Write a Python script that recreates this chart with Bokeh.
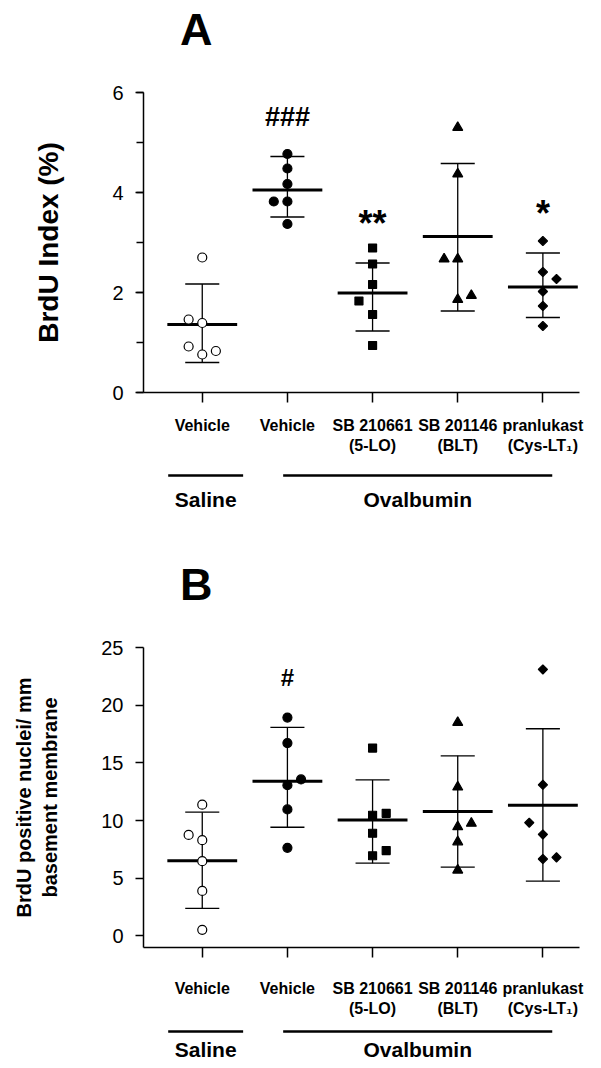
import numpy as np
from bokeh.plotting import figure
from bokeh.layouts import column
from bokeh.models import Range1d, FixedTicker, SingleIntervalTicker, ColumnDataSource
from bokeh.core.properties import value
from bokeh.embed import file_html
from bokeh.resources import INLINE

# ---------------- data ----------------
categories = ["Vehicle", "Vehicle", "SB 210661\n(5-LO)", "SB 201146\n(BLT)", "pranlukast\n(Cys-LT\u2081)"]
groups = ["Saline", "Ovalbumin"]
group_line_start = [0.60, 1.95]
group_line_end = [1.48, 5.11]
panel_letters = ["A", "B"]

# Panel A: BrdU index (%)
a_saline_vehicle = [2.70, 1.46, 1.39, 0.92, 0.76, 0.83]
a_ova_vehicle = [4.77, 4.48, 4.17, 3.82, 3.82, 3.37]
a_sb210661 = [2.89, 2.57, 2.16, 1.83, 1.56, 0.94]
a_sb201146 = [5.30, 4.37, 2.67, 2.67, 1.86, 1.94]
a_pranlukast = [3.03, 2.41, 2.27, 2.02, 1.73, 1.33]
a_jitter = [[0, -1, 0, -1, 0, 1], [0, 0, 0, -1, 0, 0], [0, 0, 0, -1, 0, 0],
            [0, 0, -1, 0, 0, 1], [0, 0, 1, 0, 0, 0]]
a_mean = [1.36, 4.05, 1.99, 3.12, 2.11]
a_upper = [2.17, 4.72, 2.59, 4.58, 2.79]
a_lower = [0.60, 3.51, 1.23, 1.63, 1.50]
a_sig = ["", "###", "**", "", "*"]

# Panel B: BrdU positive nuclei / mm basement membrane
b_saline_vehicle = [11.38, 8.76, 8.30, 6.48, 3.90, 0.53]
b_ova_vehicle = [18.93, 16.72, 13.57, 13.07, 10.97, 7.64]
b_sb210661 = [16.28, 10.46, 10.63, 8.90, 7.40, 6.95]
b_sb201146 = [18.50, 12.90, 9.76, 9.46, 8.15, 5.70]
b_pranlukast = [23.10, 13.10, 9.82, 8.80, 6.67, 6.81]
b_jitter = [[0, -1, 0, 0, 0, 0], [0, 0, 1, 0, 0, 0], [0, 0, 1, 0, 1, 0],
            [0, 0, 1, 0, 0, 0], [0, 0, -1, 0, 0, 1]]
b_mean = [6.52, 13.41, 10.06, 10.79, 11.33]
b_upper = [10.73, 18.07, 13.52, 15.61, 17.96]
b_lower = [2.39, 9.42, 6.31, 5.97, 4.76]
b_sig = ["", "#", "", "", ""]

# ---------------- style ----------------
FONT = "Liberation Sans"
FW, FH = 436, 300
BL, BR = 143, 13
XR = (0.31, 5.43)
JIT = 0.16
MARKERS = [
    dict(marker="circle", size=9, fill_color="white", angle=0),
    dict(marker="circle", size=9, fill_color="black", angle=0),
    dict(marker="square", size=8, fill_color="black", angle=0),
    dict(marker="triangle", size=10, fill_color="black", angle=0),
    dict(marker="square", size=6.5, fill_color="black", angle=np.pi / 4),
]
SIG_SIZE = {"#": "24px", "###": "27px", "**": "36px", "*": "36px"}


def strip(height, x_range):
    g = figure(frame_width=FW, frame_height=height, x_range=x_range,
               y_range=Range1d(height, 0), x_axis_type=None, y_axis_type=None,
               min_border_left=BL, min_border_right=BR, min_border_top=0, min_border_bottom=0,
               toolbar_location=None, output_backend="svg")
    g.outline_line_color = None
    g.grid.visible = False
    return g


def make_header(x_range, height, letter, baseline_y):
    h = strip(height, x_range)
    h.text(x=[0.93], y=[baseline_y], text=[letter], text_font=value(FONT),
           text_font_size="45px", text_font_style="bold", text_align="center",
           text_baseline="alphabetic", text_color="black")
    return h


def make_panel(x_range, ylabel, ylabel_size, ylabel_standoff, yrange, ticker, series, jitter,
               means, upper, lower, sig, sig_gap, top, bottom, xlab_standoff):
    p = figure(frame_width=FW, frame_height=FH, x_range=x_range, y_range=Range1d(*yrange),
               min_border_left=BL, min_border_right=BR, min_border_top=top,
               min_border_bottom=bottom, toolbar_location=None, output_backend="svg")
    p.outline_line_color = None
    p.grid.visible = False

    xa = p.xaxis[0]
    xa.ticker = FixedTicker(ticks=[1, 2, 3, 4, 5], minor_ticks=[])
    xa.major_label_overrides = {i + 1: c for i, c in enumerate(categories)}
    xa.major_tick_out = 10
    xa.major_tick_in = 0
    xa.major_label_standoff = xlab_standoff
    xa.major_label_text_font = FONT
    xa.major_label_text_font_size = "16px"
    xa.major_label_text_font_style = "bold"
    xa.major_label_text_color = "black"

    ya = p.yaxis[0]
    ya.ticker = ticker
    ya.major_tick_out = 8
    ya.major_tick_in = 0
    ya.minor_tick_out = 7
    ya.minor_tick_in = 0
    ya.major_label_standoff = 12
    ya.major_label_text_font = FONT
    ya.major_label_text_font_size = "20px"
    ya.major_label_text_color = "black"
    ya.axis_label = ylabel
    ya.axis_label_text_font = FONT
    ya.axis_label_text_font_size = ylabel_size
    ya.axis_label_text_font_style = "bold"
    ya.axis_label_text_color = "black"
    ya.axis_label_standoff = ylabel_standoff

    for ax in (xa, ya):
        ax.axis_line_width = 1.5
        ax.axis_line_color = "black"
        ax.major_tick_line_width = 1.5
        ax.major_tick_line_color = "black"
        ax.minor_tick_line_width = 1.5
        ax.minor_tick_line_color = "black"

    x = np.arange(1, 6, dtype=float)
    src = ColumnDataSource(dict(x=x, mean=means, up=upper, lo=lower,
                                cl=x - 0.2, cr=x + 0.2, ml=x - 0.41, mr=x + 0.41))
    p.segment(x0="x", y0="lo", x1="x", y1="up", source=src, line_width=1.3, line_color="black")
    p.segment(x0="cl", y0="up", x1="cr", y1="up", source=src, line_width=1.3, line_color="black")
    p.segment(x0="cl", y0="lo", x1="cr", y1="lo", source=src, line_width=1.3, line_color="black")
    p.segment(x0="ml", y0="mean", x1="mr", y1="mean", source=src, line_width=3, line_color="black")

    for i, (vals, jit) in enumerate(zip(series, jitter)):
        m = MARKERS[i]
        xs = [i + 1 + JIT * j for j in jit]
        p.scatter(x=xs, y=vals, marker=m["marker"], size=m["size"], angle=m["angle"],
                  fill_color=m["fill_color"], line_color="black", line_width=1.2)

    sx, sy, st, ss = [], [], [], []
    for i, s in enumerate(sig):
        if s:
            sx.append(i + 1)
            sy.append(upper[i] + sig_gap)
            st.append(s)
            ss.append(SIG_SIZE[s])
    p.text(x=sx, y=sy, text=st, text_font_size=ss, text_font=value(FONT),
           text_font_style="bold", text_align="center", text_baseline="alphabetic",
           text_color="black")
    return p


def make_groups(x_range, height, line_y, text_y):
    g = strip(height, x_range)
    g.segment(x0=group_line_start, x1=group_line_end, y0=[line_y] * 2, y1=[line_y] * 2,
              line_width=2.5, line_color="black")
    centers = [(a + b) / 2 for a, b in zip(group_line_start, group_line_end)]
    g.text(x=centers, y=[text_y] * 2, text=groups, text_font=value(FONT),
           text_font_size="21px", text_font_style="bold", text_align="center",
           text_baseline="middle", text_color="black")
    return g


xr = Range1d(*XR)

hA = make_header(xr, 77, panel_letters[0], 29)
pA = make_panel(xr, "BrdU Index (%)", "28px", 45, (0, 6),
                SingleIntervalTicker(interval=2, num_minor_ticks=2),
                [a_saline_vehicle, a_ova_vehicle, a_sb210661, a_sb201146, a_pranlukast],
                a_jitter, a_mean, a_upper, a_lower, a_sig, 0.8, 15, 75, 14)
gA = make_groups(xr, 50, 8, 32)

hB = make_header(xr, 116, panel_letters[1], 67)
pB = make_panel(xr, "BrdU positive nuclei/ mm\nbasement membrane", "20px", 37, (-1, 25),
                SingleIntervalTicker(interval=5, num_minor_ticks=0),
                [b_saline_vehicle, b_ova_vehicle, b_sb210661, b_sb201146, b_pranlukast],
                b_jitter, b_mean, b_upper, b_lower, b_sig, 4.35, 14, 70, 22)
gB = make_groups(xr, 44, 12, 30)

layout = column(hA, pA, gA, hB, pB, gB, spacing=0)
open("out.html", "w").write(file_html(layout, INLINE))
